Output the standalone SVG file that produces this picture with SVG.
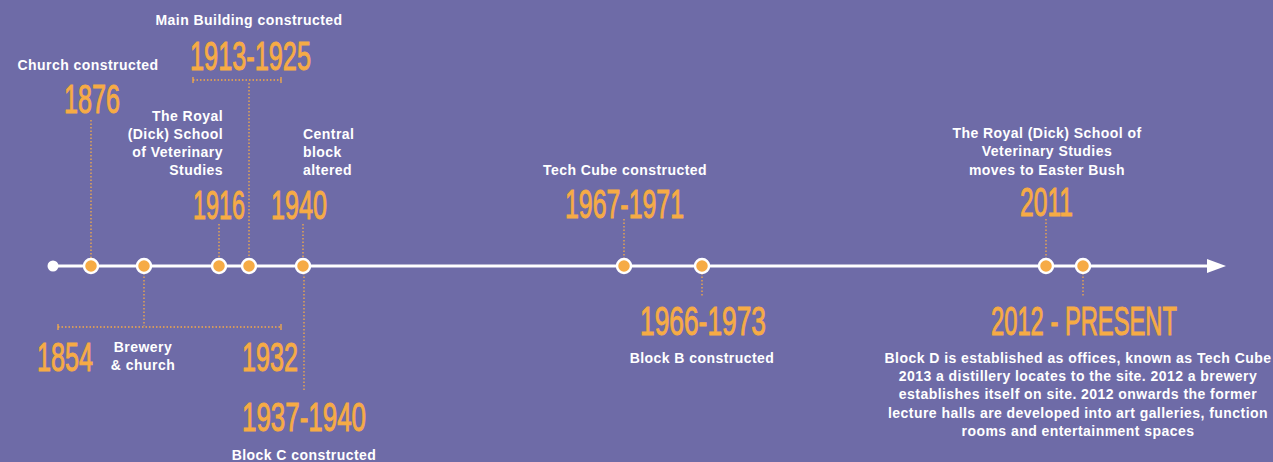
<svg xmlns="http://www.w3.org/2000/svg" width="1273" height="462" viewBox="0 0 1273 462">
<style>
.lbl{font-family:"Liberation Sans",Arial,sans-serif;font-weight:bold;font-size:14px;letter-spacing:0.45px;fill:#ffffff}
.yr{font-family:"Liberation Sans",Arial,sans-serif;font-weight:normal;font-size:40px;fill:#f6ab45;stroke:#f6ab45;stroke-width:1}
.dot{fill:#f6ab45;stroke:#ffffff;stroke-width:2.5}
.dl{stroke:#f6ab45;stroke-width:1.3;stroke-dasharray:1.5 2;fill:none}
.tk{stroke:#f6ab45;stroke-width:1.3;fill:none}
</style>
<rect x="0" y="0" width="1273" height="462" fill="#6e6ba7"/>
<g id="connectors">
<line x1="53" y1="266" x2="1208" y2="266" stroke="#ffffff" stroke-width="3"/>
<polygon points="1207,259 1226,266 1207,273" fill="#ffffff"/>
<circle cx="53" cy="266" r="5.5" fill="#ffffff"/>
<line class="dl" x1="91" y1="120" x2="91" y2="259"/>
<line class="dl" x1="193" y1="80" x2="281" y2="80"/>
<line class="tk" x1="193" y1="77" x2="193" y2="83"/>
<line class="tk" x1="281" y1="77" x2="281" y2="83"/>
<line class="dl" x1="249" y1="83" x2="249" y2="259"/>
<line class="dl" x1="219" y1="224" x2="219" y2="259"/>
<line class="dl" x1="303" y1="224" x2="303" y2="259"/>
<line class="dl" x1="304" y1="273" x2="304" y2="390"/>
<line class="dl" x1="144" y1="273" x2="144" y2="326"/>
<line class="dl" x1="58" y1="327" x2="281" y2="327"/>
<line class="tk" x1="58" y1="324" x2="58" y2="330"/>
<line class="tk" x1="281" y1="324" x2="281" y2="330"/>
<line class="dl" x1="624" y1="219" x2="624" y2="259"/>
<line class="dl" x1="702" y1="273" x2="702" y2="297"/>
<line class="dl" x1="1046" y1="219" x2="1046" y2="259"/>
<line class="dl" x1="1083" y1="273" x2="1083" y2="297"/>
</g>
<g id="dots">
<circle class="dot" cx="91" cy="266" r="7"/>
<circle class="dot" cx="144" cy="266" r="7"/>
<circle class="dot" cx="219" cy="266" r="7"/>
<circle class="dot" cx="249" cy="266" r="7"/>
<circle class="dot" cx="303" cy="266" r="7"/>
<circle class="dot" cx="624" cy="266" r="7"/>
<circle class="dot" cx="702" cy="266" r="7"/>
<circle class="dot" cx="1046" cy="266" r="7"/>
<circle class="dot" cx="1083" cy="266" r="7"/>
</g>
<g id="n1876">
<text class="lbl" x="88" y="70" text-anchor="middle">Church constructed</text>
<text class="yr" x="64" y="113" textLength="56" lengthAdjust="spacingAndGlyphs">1876</text>
</g>
<g id="n1913">
<text class="lbl" x="249" y="25" text-anchor="middle">Main Building constructed</text>
<text class="yr" x="190" y="70" textLength="121" lengthAdjust="spacingAndGlyphs">1913-1925</text>
</g>
<g id="n1916">
<text class="lbl" x="223" y="121" text-anchor="end">The Royal</text>
<text class="lbl" x="223" y="139" text-anchor="end">(Dick) School</text>
<text class="lbl" x="223" y="157" text-anchor="end">of Veterinary</text>
<text class="lbl" x="223" y="175" text-anchor="end">Studies</text>
<text class="yr" x="193" y="219" textLength="52" lengthAdjust="spacingAndGlyphs">1916</text>
</g>
<g id="n1940">
<text class="lbl" x="303" y="139">Central</text>
<text class="lbl" x="303" y="157">block</text>
<text class="lbl" x="303" y="175">altered</text>
<text class="yr" x="271" y="219" textLength="56" lengthAdjust="spacingAndGlyphs">1940</text>
</g>
<g id="n1854">
<text class="yr" x="37" y="371" textLength="56" lengthAdjust="spacingAndGlyphs">1854</text>
<text class="lbl" x="143" y="352" text-anchor="middle">Brewery</text>
<text class="lbl" x="143" y="370" text-anchor="middle">&amp; church</text>
<text class="yr" x="242" y="371" textLength="56" lengthAdjust="spacingAndGlyphs">1932</text>
</g>
<g id="n1937">
<text class="yr" x="242" y="431" textLength="124" lengthAdjust="spacingAndGlyphs">1937-1940</text>
<text class="lbl" x="304" y="460" text-anchor="middle">Block C constructed</text>
</g>
<g id="n1967">
<text class="lbl" x="625" y="175" text-anchor="middle">Tech Cube constructed</text>
<text class="yr" x="565" y="218" textLength="119" lengthAdjust="spacingAndGlyphs">1967-1971</text>
</g>
<g id="n1966">
<text class="yr" x="640" y="335" textLength="126" lengthAdjust="spacingAndGlyphs">1966-1973</text>
<text class="lbl" x="702" y="363" text-anchor="middle">Block B constructed</text>
</g>
<g id="n2011">
<text class="lbl" x="1047" y="138" text-anchor="middle">The Royal (Dick) School of</text>
<text class="lbl" x="1047" y="156" text-anchor="middle">Veterinary Studies</text>
<text class="lbl" x="1047" y="175" text-anchor="middle">moves to Easter Bush</text>
<text class="yr" x="1020" y="216" textLength="53" lengthAdjust="spacingAndGlyphs">2011</text>
</g>
<g id="n2012">
<text class="yr" x="991" y="335" textLength="186" lengthAdjust="spacingAndGlyphs">2012 - PRESENT</text>
<text class="lbl" x="1078" y="363" text-anchor="middle">Block D is established as offices, known as Tech Cube</text>
<text class="lbl" x="1078" y="381" text-anchor="middle">2013 a distillery locates to the site. 2012 a brewery</text>
<text class="lbl" x="1078" y="399" text-anchor="middle">establishes itself on site. 2012 onwards the former</text>
<text class="lbl" x="1078" y="418" text-anchor="middle">lecture halls are developed into art galleries, function</text>
<text class="lbl" x="1078" y="436" text-anchor="middle">rooms and entertainment spaces</text>
</g>
</svg>
